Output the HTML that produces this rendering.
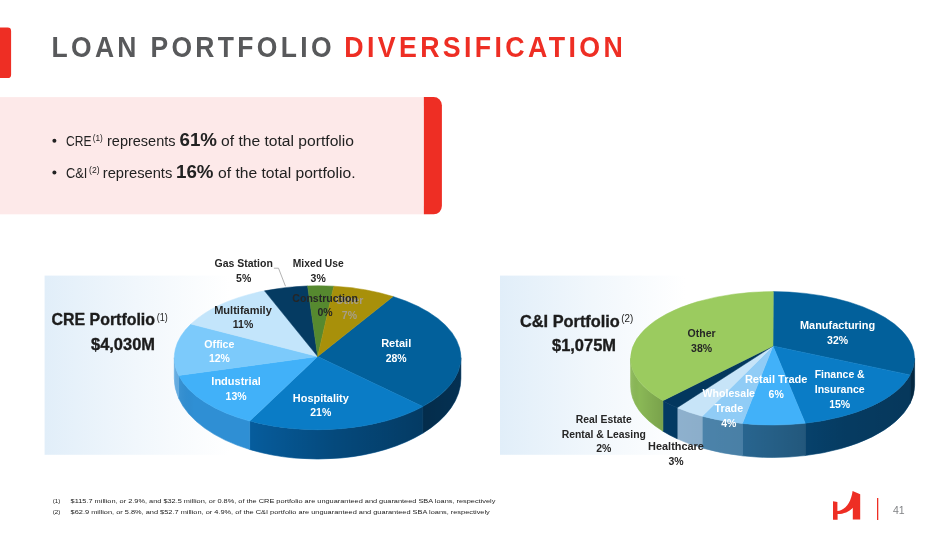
<!DOCTYPE html>
<html><head><meta charset="utf-8"><title>Loan Portfolio Diversification</title>
<style>html,body{margin:0;padding:0;background:#fff;}body{width:949px;height:534px;overflow:hidden;}svg{display:block;}</style>
</head><body>
<svg width="949" height="534" viewBox="0 0 949 534" font-family='"Liberation Sans", sans-serif'>
<defs>
<linearGradient id="panel" x1="0" y1="0" x2="1" y2="0">
<stop offset="0" stop-color="#e1eef9"/><stop offset="0.5" stop-color="#f1f7fc"/><stop offset="1" stop-color="#ffffff"/>
</linearGradient>
<linearGradient id="shade1" gradientUnits="userSpaceOnUse" x1="174" y1="0" x2="462" y2="0">
<stop offset="0" stop-color="#fff" stop-opacity="0.1"/>
<stop offset="0.07" stop-color="#000" stop-opacity="0.0"/>
<stop offset="0.27" stop-color="#000" stop-opacity="0.0"/>
<stop offset="0.55" stop-color="#000" stop-opacity="0.2"/>
<stop offset="0.86" stop-color="#000" stop-opacity="0.36"/>
<stop offset="1" stop-color="#000" stop-opacity="0.3"/>
</linearGradient>
<linearGradient id="shade2" gradientUnits="userSpaceOnUse" x1="630.6" y1="0" x2="914.6" y2="0">
<stop offset="0" stop-color="#fff" stop-opacity="0.08"/>
<stop offset="0.03" stop-color="#000" stop-opacity="0.0"/>
<stop offset="0.112" stop-color="#000" stop-opacity="0.12"/>
<stop offset="0.116" stop-color="#000" stop-opacity="0.0"/>
<stop offset="0.4" stop-color="#000" stop-opacity="0.05"/>
<stop offset="0.75" stop-color="#000" stop-opacity="0.25"/>
<stop offset="1" stop-color="#000" stop-opacity="0.3"/>
</linearGradient>
</defs>
<rect width="949" height="534" fill="#fff"/>
<path d="M0 27.6 H7.7 a3.4 3.4 0 0 1 3.4 3.4 V74.7 a3.4 3.4 0 0 1 -3.4 3.4 H0 Z" fill="#ee2e24"/>
<text x="51.5" y="56.5" font-size="28.6" font-weight="bold" fill="#58595b" letter-spacing="3.6" textLength="283.3" lengthAdjust="spacingAndGlyphs">LOAN PORTFOLIO</text>
<text x="344.2" y="56.5" font-size="28.6" font-weight="bold" fill="#ee2e24" letter-spacing="3.6" textLength="282" lengthAdjust="spacingAndGlyphs">DIVERSIFICATION</text>
<rect x="0" y="97.1" width="430" height="117.2" fill="#fde9e9"/>
<path d="M423.9 97.1 H433.7 a8.2 8.2 0 0 1 8.2 8.2 V206.1 a8.2 8.2 0 0 1 -8.2 8.2 H423.9 Z" fill="#ee2e24"/>
<circle cx="54.4" cy="140.8" r="2" fill="#222"/>
<text x="66" y="146" font-size="14" font-weight="normal" fill="#222" textLength="25.5" lengthAdjust="spacingAndGlyphs">CRE</text>
<text x="92.7" y="141.4" font-size="9.5" font-weight="normal" fill="#222" textLength="10.1" lengthAdjust="spacingAndGlyphs">(1)</text>
<text x="107" y="146" font-size="14" font-weight="normal" fill="#222" textLength="68.5" lengthAdjust="spacingAndGlyphs">represents</text>
<text x="179.5" y="146" font-size="18" font-weight="bold" fill="#222" textLength="37.5" lengthAdjust="spacingAndGlyphs">61%</text>
<text x="221" y="146" font-size="14" font-weight="normal" fill="#222" textLength="133" lengthAdjust="spacingAndGlyphs">of the total portfolio</text>
<circle cx="54.4" cy="172.4" r="2" fill="#222"/>
<text x="66" y="177.6" font-size="14" font-weight="normal" fill="#222" textLength="21.4" lengthAdjust="spacingAndGlyphs">C&amp;I</text>
<text x="89.1" y="173" font-size="9.5" font-weight="normal" fill="#222" textLength="10.5" lengthAdjust="spacingAndGlyphs">(2)</text>
<text x="102.8" y="177.6" font-size="14" font-weight="normal" fill="#222" textLength="69.5" lengthAdjust="spacingAndGlyphs">represents</text>
<text x="176" y="177.6" font-size="18" font-weight="bold" fill="#222" textLength="37.5" lengthAdjust="spacingAndGlyphs">16%</text>
<text x="218" y="177.6" font-size="14" font-weight="normal" fill="#222" textLength="137.5" lengthAdjust="spacingAndGlyphs">of the total portfolio.</text>
<rect x="44.6" y="275.6" width="185" height="179.2" fill="url(#panel)"/>
<rect x="500" y="275.6" width="185" height="179.2" fill="url(#panel)"/>
<path d="M460.9 357.7 A143.3 72 0 0 1 422.8 406.59 L422.8 433.23 A143.3 80.6 0 0 0 460.9 378.5 Z" fill="#064575" stroke="#064575" stroke-width="0.6"/>
<path d="M422.8 406.59 A143.3 72 0 0 1 249.7 421.1 L249.7 449.48 A143.3 80.6 0 0 0 422.8 433.23 Z" fill="#065c9c" stroke="#065c9c" stroke-width="0.6"/>
<path d="M249.7 421.1 A143.3 72 0 0 1 178.7 375.4 L178.7 398.31 A143.3 80.6 0 0 0 249.7 449.48 Z" fill="#2f8fd4" stroke="#2f8fd4" stroke-width="0.6"/>
<path d="M178.7 375.4 A143.3 72 0 0 1 174.3 357.7 L174.3 378.5 A143.3 80.6 0 0 0 178.7 398.31 Z" fill="#5aa7e0" stroke="#5aa7e0" stroke-width="0.6"/>
<path d="M460.9 357.7 A143.3 72 0 0 1 174.3 357.7 L174.3 378.5 A143.3 80.6 0 0 0 460.9 378.5 Z" fill="url(#shade1)"/>
<path d="M317.7 356.5 L393.1 296.5 A143.3 72 0 0 1 422.8 406.59 Z" fill="#02609b" stroke="#02609b" stroke-width="0.5" stroke-linejoin="round"/>
<path d="M317.7 356.5 L422.8 406.59 A143.3 72 0 0 1 249.7 421.1 Z" fill="#0a7cc6" stroke="#0a7cc6" stroke-width="0.5" stroke-linejoin="round"/>
<path d="M317.7 356.5 L249.7 421.1 A143.3 72 0 0 1 178.7 375.4 Z" fill="#41b1f9" stroke="#41b1f9" stroke-width="0.5" stroke-linejoin="round"/>
<path d="M317.7 356.5 L178.7 375.4 A143.3 72 0 0 1 190.9 324.06 Z" fill="#7ccafb" stroke="#7ccafb" stroke-width="0.5" stroke-linejoin="round"/>
<path d="M317.7 356.5 L190.9 324.06 A143.3 72 0 0 1 264.5 290.83 Z" fill="#c3e5fb" stroke="#c3e5fb" stroke-width="0.5" stroke-linejoin="round"/>
<path d="M317.7 356.5 L264.5 290.83 A143.3 72 0 0 1 307.6 285.88 Z" fill="#053b62" stroke="#053b62" stroke-width="0.5" stroke-linejoin="round"/>
<path d="M317.7 356.5 L307.6 285.88 A143.3 72 0 0 1 333.8 286.16 Z" fill="#56892f" stroke="#56892f" stroke-width="0.5" stroke-linejoin="round"/>
<path d="M317.7 356.5 L333.8 286.16 A143.3 72 0 0 1 393.1 296.5 Z" fill="#a8900a" stroke="#a8900a" stroke-width="0.5" stroke-linejoin="round"/>
<path d="M914.6 358.3 A142 66.7 0 0 1 910.13 374.9 L910.13 403.34 A142 72.1 0 0 0 914.6 385.4 Z" fill="#05385c" stroke="#05385c" stroke-width="0.6"/>
<path d="M910.13 374.9 A142 66.7 0 0 1 805.2 423.22 L805.2 455.57 A142 72.1 0 0 0 910.13 403.34 Z" fill="#084f82" stroke="#084f82" stroke-width="0.6"/>
<path d="M805.2 423.22 A142 66.7 0 0 1 742.4 423.47 L742.4 455.85 A142 72.1 0 0 0 805.2 455.57 Z" fill="#2a6a96" stroke="#2a6a96" stroke-width="0.6"/>
<path d="M742.4 423.47 A142 66.7 0 0 1 702.2 416.23 L702.2 448.02 A142 72.1 0 0 0 742.4 455.85 Z" fill="#4d86ae" stroke="#4d86ae" stroke-width="0.6"/>
<path d="M702.2 416.23 A142 66.7 0 0 1 677.2 407.7 L677.2 438.8 A142 72.1 0 0 0 702.2 448.02 Z" fill="#8fb2cf" stroke="#8fb2cf" stroke-width="0.6"/>
<path d="M677.2 407.7 A142 66.7 0 0 1 662.9 400.65 L662.9 431.18 A142 72.1 0 0 0 677.2 438.8 Z" fill="#033a63" stroke="#033a63" stroke-width="0.6"/>
<path d="M662.9 400.65 A142 66.7 0 0 1 630.6 358.3 L630.6 385.4 A142 72.1 0 0 0 662.9 431.18 Z" fill="#8ab856" stroke="#8ab856" stroke-width="0.6"/>
<path d="M914.6 358.3 A142 66.7 0 0 1 630.6 358.3 L630.6 385.4 A142 72.1 0 0 0 914.6 385.4 Z" fill="url(#shade2)"/>
<path d="M773 346 L773.3 291.6 A142 66.7 0 0 1 910.13 374.9 Z" fill="#02609b" stroke="#02609b" stroke-width="0.5" stroke-linejoin="round"/>
<path d="M773 346 L910.13 374.9 A142 66.7 0 0 1 805.2 423.22 Z" fill="#0a7cc6" stroke="#0a7cc6" stroke-width="0.5" stroke-linejoin="round"/>
<path d="M773 346 L805.2 423.22 A142 66.7 0 0 1 742.4 423.47 Z" fill="#41b1f9" stroke="#41b1f9" stroke-width="0.5" stroke-linejoin="round"/>
<path d="M773 346 L742.4 423.47 A142 66.7 0 0 1 702.2 416.23 Z" fill="#90ccf6" stroke="#90ccf6" stroke-width="0.5" stroke-linejoin="round"/>
<path d="M773 346 L702.2 416.23 A142 66.7 0 0 1 677.2 407.7 Z" fill="#c7e4f8" stroke="#c7e4f8" stroke-width="0.5" stroke-linejoin="round"/>
<path d="M773 346 L677.2 407.7 A142 66.7 0 0 1 662.9 400.65 Z" fill="#03375e" stroke="#03375e" stroke-width="0.5" stroke-linejoin="round"/>
<path d="M773 346 L662.9 400.65 A142 66.7 0 0 1 773.3 291.6 Z" fill="#9bcb5f" stroke="#9bcb5f" stroke-width="0.5" stroke-linejoin="round"/>
<polyline points="273.9,268.2 278.5,268.2 285.5,286.3" fill="none" stroke="#a0a0a0" stroke-width="0.8"/>
<text x="214.55" y="266.9" font-size="10.5" font-weight="bold" fill="#262626" textLength="58.3" lengthAdjust="spacingAndGlyphs">Gas Station</text>
<text x="243.7" y="281.65" text-anchor="middle" font-size="10.5" font-weight="bold" fill="#262626">5%</text>
<text x="292.75" y="266.9" font-size="10.5" font-weight="bold" fill="#262626" textLength="50.9" lengthAdjust="spacingAndGlyphs">Mixed Use</text>
<text x="318.2" y="281.65" text-anchor="middle" font-size="10.5" font-weight="bold" fill="#262626">3%</text>
<text x="349.4" y="304.4" text-anchor="middle" font-size="10.5" font-weight="bold" fill="#a69e8c">Other</text>
<text x="349.4" y="319.15" text-anchor="middle" font-size="10.5" font-weight="bold" fill="#a69e8c">7%</text>
<text x="292.35" y="301.5" font-size="10.5" font-weight="bold" fill="#262626" textLength="65.5" lengthAdjust="spacingAndGlyphs">Construction</text>
<text x="325.1" y="316.25" text-anchor="middle" font-size="10.5" font-weight="bold" fill="#262626">0%</text>
<text x="214.2" y="313.7" font-size="10.5" font-weight="bold" fill="#262626" textLength="57.6" lengthAdjust="spacingAndGlyphs">Multifamily</text>
<text x="243" y="328.45" text-anchor="middle" font-size="10.5" font-weight="bold" fill="#262626">11%</text>
<text x="204.35" y="347.7" font-size="10.5" font-weight="bold" fill="#fff" textLength="30.1" lengthAdjust="spacingAndGlyphs">Office</text>
<text x="219.4" y="362.45" text-anchor="middle" font-size="10.5" font-weight="bold" fill="#fff">12%</text>
<text x="211.35" y="384.8" font-size="10.5" font-weight="bold" fill="#fff" textLength="49.5" lengthAdjust="spacingAndGlyphs">Industrial</text>
<text x="236.1" y="399.55" text-anchor="middle" font-size="10.5" font-weight="bold" fill="#fff">13%</text>
<text x="292.85" y="401.7" font-size="10.5" font-weight="bold" fill="#fff" textLength="55.9" lengthAdjust="spacingAndGlyphs">Hospitality</text>
<text x="320.8" y="416.45" text-anchor="middle" font-size="10.5" font-weight="bold" fill="#fff">21%</text>
<text x="381.15" y="346.9" font-size="10.5" font-weight="bold" fill="#fff" textLength="30.1" lengthAdjust="spacingAndGlyphs">Retail</text>
<text x="396.2" y="361.65" text-anchor="middle" font-size="10.5" font-weight="bold" fill="#fff">28%</text>
<text x="51.5" y="325.4" font-size="16.5" font-weight="bold" fill="#1c1c1c" stroke="#1c1c1c" stroke-width="0.35" textLength="103.5" lengthAdjust="spacingAndGlyphs">CRE Portfolio</text>
<text x="156.8" y="320.5" font-size="10" fill="#222" textLength="11" lengthAdjust="spacingAndGlyphs">(1)</text>
<text x="91" y="349.5" font-size="16.5" font-weight="bold" fill="#1c1c1c" stroke="#1c1c1c" stroke-width="0.35" textLength="64" lengthAdjust="spacingAndGlyphs">$4,030M</text>
<text x="520" y="327" font-size="16.5" font-weight="bold" fill="#1c1c1c" stroke="#1c1c1c" stroke-width="0.35" textLength="99.8" lengthAdjust="spacingAndGlyphs">C&amp;I Portfolio</text>
<text x="621.3" y="322" font-size="10" fill="#222" textLength="12" lengthAdjust="spacingAndGlyphs">(2)</text>
<text x="552" y="351" font-size="16.5" font-weight="bold" fill="#1c1c1c" stroke="#1c1c1c" stroke-width="0.35" textLength="64" lengthAdjust="spacingAndGlyphs">$1,075M</text>
<text x="701.6" y="337.3" text-anchor="middle" font-size="10.5" font-weight="bold" fill="#262626">Other</text>
<text x="701.6" y="352.05" text-anchor="middle" font-size="10.5" font-weight="bold" fill="#262626">38%</text>
<text x="800" y="329.1" font-size="10.5" font-weight="bold" fill="#fff" textLength="75.2" lengthAdjust="spacingAndGlyphs">Manufacturing</text>
<text x="837.6" y="343.85" text-anchor="middle" font-size="10.5" font-weight="bold" fill="#fff">32%</text>
<text x="814.7" y="378.4" font-size="10.5" font-weight="bold" fill="#fff" textLength="50" lengthAdjust="spacingAndGlyphs">Finance &amp;</text>
<text x="814.7" y="393.15" font-size="10.5" font-weight="bold" fill="#fff" textLength="50" lengthAdjust="spacingAndGlyphs">Insurance</text>
<text x="839.7" y="407.9" text-anchor="middle" font-size="10.5" font-weight="bold" fill="#fff">15%</text>
<text x="744.9" y="383.1" font-size="10.5" font-weight="bold" fill="#fff" textLength="62.6" lengthAdjust="spacingAndGlyphs">Retail Trade</text>
<text x="776.2" y="397.85" text-anchor="middle" font-size="10.5" font-weight="bold" fill="#fff">6%</text>
<text x="702.6" y="397.4" font-size="10.5" font-weight="bold" fill="#fff" textLength="52.4" lengthAdjust="spacingAndGlyphs">Wholesale</text>
<text x="714.5" y="412.15" font-size="10.5" font-weight="bold" fill="#fff" textLength="28.6" lengthAdjust="spacingAndGlyphs">Trade</text>
<text x="728.8" y="426.9" text-anchor="middle" font-size="10.5" font-weight="bold" fill="#fff">4%</text>
<text x="575.75" y="422.9" font-size="10.5" font-weight="bold" fill="#262626" textLength="56.1" lengthAdjust="spacingAndGlyphs">Real Estate</text>
<text x="561.7" y="437.65" font-size="10.5" font-weight="bold" fill="#262626" textLength="84.2" lengthAdjust="spacingAndGlyphs">Rental &amp; Leasing</text>
<text x="603.8" y="452.4" text-anchor="middle" font-size="10.5" font-weight="bold" fill="#262626">2%</text>
<text x="648.1" y="450.2" font-size="10.5" font-weight="bold" fill="#262626" textLength="55.8" lengthAdjust="spacingAndGlyphs">Healthcare</text>
<text x="676" y="464.95" text-anchor="middle" font-size="10.5" font-weight="bold" fill="#262626">3%</text>
<text x="52.8" y="503.4" font-size="6.2" fill="#1a1a1a">(1)</text>
<text x="70.6" y="503.4" font-size="6.2" fill="#1a1a1a" textLength="424.8" lengthAdjust="spacingAndGlyphs">$115.7 million, or 2.9%, and $32.5 million, or 0.8%, of the CRE portfolio are unguaranteed and guaranteed SBA loans, respectively</text>
<text x="52.8" y="513.6" font-size="6.2" fill="#1a1a1a">(2)</text>
<text x="70.6" y="513.6" font-size="6.2" fill="#1a1a1a" textLength="419.2" lengthAdjust="spacingAndGlyphs">$62.9 million, or 5.8%, and $52.7 million, or 4.9%, of the C&amp;I portfolio are unguaranteed and guaranteed SBA loans, respectively</text>
<path d="M833 501.2 L837.4 502.1 L837.4 511.1 C846 509.8 851 502.5 852.6 491.1 L860.2 494.2 L860.2 519.6 L852.8 519.6 L852.8 507.7 C849.5 511.6 844 514 837.6 514.1 L837.6 519.7 L833 519.7 Z" fill="#ee2e24"/>
<rect x="877" y="498" width="1.3" height="22" fill="#ee2e24"/>
<text x="893" y="514" font-size="10.5" fill="#808285">41</text>
</svg>
</body></html>
